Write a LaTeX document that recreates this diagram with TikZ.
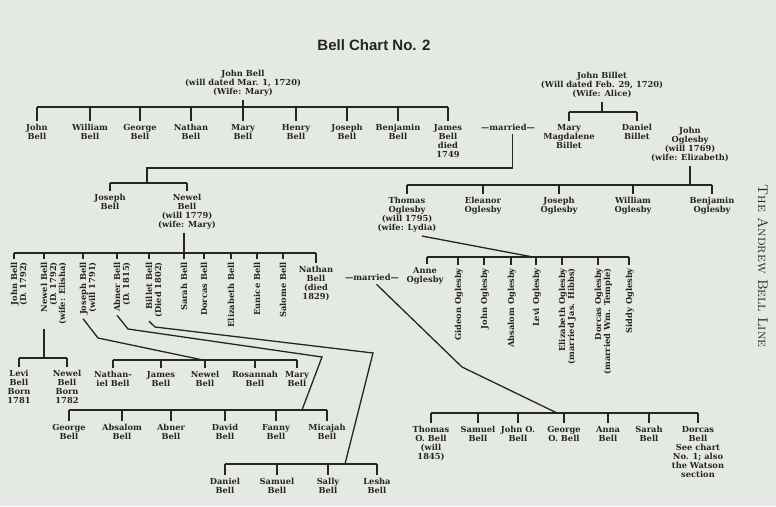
\documentclass[tikz,border=0pt]{standalone}
\usepackage{fontspec}
\newfontfamily\chartfont{DejaVu Serif}
\newfontfamily\titlefont{Liberation Sans}
\definecolor{paper}{RGB}{229,233,227}
\definecolor{ink}{RGB}{38,36,36}

\begin{document}
\begin{tikzpicture}[
        x=1pt, y=-1pt,
        every node/.style={font=\chartfont\bfseries\fontsize{8.3}{9}\selectfont, text=ink, inner sep=3.5pt},
        person/.style={align=center, anchor=north},
        sideways/.style={rotate=90, align=right, anchor=north east},
        link/.style={draw=ink, line width=1.3pt}
    ]
        \fill[paper] (0,0) rectangle (776,506);

        % Tiêu đề
        \node[font=\titlefont\bfseries\fontsize{15}{17}\selectfont] (title) at (374,45) {Bell Chart No. 2};
        \node[rotate=-90, font=\rmfamily\fontsize{14}{16}\selectfont\scshape] (sidetitle) at (763,266) {The Andrew Bell Line};

        % Thế hệ thứ nhất
        \node[person] (jbell) at (243,66.5) {John Bell\\(will dated Mar. 1, 1720)\\(Wife: Mary)};
        \node[person] (jbillet) at (602,68.5) {John Billet\\(Will dated Feb. 29, 1720)\\(Wife: Alice)};
        \node[person] (joglesby) at (690,123.5) {John\\Oglesby\\(will 1769)\\(wife: Elizabeth)};

        % Con của John Bell và John Billet
        \node[person] (johnB) at (37,120.5) {John\\Bell};
        \node[person] (williamB) at (90,120.5) {William\\Bell};
        \node[person] (georgeB) at (140,120.5) {George\\Bell};
        \node[person] (nathanB) at (191,120.5) {Nathan\\Bell};
        \node[person] (maryB) at (243,120.5) {Mary\\Bell};
        \node[person] (henryB) at (296,120.5) {Henry\\Bell};
        \node[person] (josephB) at (347,120.5) {Joseph\\Bell};
        \node[person] (benjaminB) at (398,120.5) {Benjamin\\Bell};
        \node[person] (jamesB) at (448,120.5) {James\\Bell\\died\\1749};
        \node[person] (married1) at (508,120.5) {—married—};
        \node[person] (maryMB) at (569,120.5) {Mary\\Magdalene\\Billet};
        \node[person] (danielBt) at (637,120.5) {Daniel\\Billet};

        % Thế hệ thứ ba
        \node[person] (josephB2) at (110,190.5) {Joseph\\Bell};
        \node[person] (newelB) at (187,190.5) {Newel\\Bell\\(will 1779)\\(wife: Mary)};
        \node[person] (thomasO) at (407,193.5) {Thomas\\Oglesby\\(will 1795)\\(wife: Lydia)};
        \node[person] (eleanorO) at (483,193.5) {Eleanor\\Oglesby};
        \node[person] (josephO) at (559,193.5) {Joseph\\Oglesby};
        \node[person] (williamO) at (633,193.5) {William\\Oglesby};
        \node[person] (benjaminO) at (712,193.5) {Benjamin\\Oglesby};

        % Con của Newel Bell
        \node[sideways] (johnB4) at (7.2,258.5) {John Bell\\(D. 1792)};
        \node[sideways] (newelB4) at (37.2,258.5) {Newel Bell\\(D. 1792)\\(wife: Elisha)};
        \node[sideways] (josephB4) at (76.2,258.5) {Joseph Bell\\(will 1791)};
        \node[sideways] (abnerB4) at (110.2,258.5) {Abner Bell\\(D. 1815)};
        \node[sideways] (billetB4) at (142.2,258.5) {Billet Bell\\(Died 1802)};
        \node[sideways] (sarahB4) at (177.2,258.5) {Sarah Bell};
        \node[sideways] (dorcasB4) at (197.2,258.5) {Dorcas Bell};
        \node[sideways] (elizabethB4) at (224.2,258.5) {Elizabeth Bell};
        \node[sideways] (euniceB4) at (250.2,258.5) {Eunice Bell};
        \node[sideways] (salomeB4) at (276.2,258.5) {Salome Bell};
        \node[person] (nathanB4) at (316,262.5) {Nathan\\Bell\\(died\\1829)};
        \node[person] (married2) at (372,270.5) {—married—};

        % Con của Thomas Oglesby
        \node[person] (anneO) at (425,263.5) {Anne\\Oglesby};
        \node[sideways] (gideonO) at (451.2,264.5) {Gideon Oglesby};
        \node[sideways] (johnO) at (477.2,264.5) {John Oglesby};
        \node[sideways] (absalomO) at (504.2,264.5) {Absalom Oglesby};
        \node[sideways] (leviO) at (529.2,264.5) {Levi Oglesby};
        \node[sideways] (elizabethO) at (555.2,264.5) {Elizabeth Oglesby\\(married Jas. Hibbs)};
        \node[sideways] (dorcasO) at (591.2,264.5) {Dorcas Oglesby\\(married Wm. Temple)};
        \node[sideways] (siddyO) at (622.2,264.5) {Siddy Oglesby};

        % Cháu
        \node[person] (leviB) at (19,366.5) {Levi\\Bell\\Born\\1781};
        \node[person] (newelB5) at (67,366.5) {Newel\\Bell\\Born\\1782};
        \node[person] (nathanielB) at (113,367.5) {Nathan-\\iel Bell};
        \node[person] (jamesB5) at (161,367.5) {James\\Bell};
        \node[person] (newelB6) at (205,367.5) {Newel\\Bell};
        \node[person] (rosannahB) at (255,367.5) {Rosannah\\Bell};
        \node[person] (maryB5) at (297,367.5) {Mary\\Bell};
        \node[person] (georgeB5) at (69,420.5) {George\\Bell};
        \node[person] (absalomB) at (122,420.5) {Absalom\\Bell};
        \node[person] (abnerB5) at (171,420.5) {Abner\\Bell};
        \node[person] (davidB) at (225,420.5) {David\\Bell};
        \node[person] (fannyB) at (276,420.5) {Fanny\\Bell};
        \node[person] (micajahB) at (327,420.5) {Micajah\\Bell};
        \node[person] (danielB) at (225,474.5) {Daniel\\Bell};
        \node[person] (samuelB) at (277,474.5) {Samuel\\Bell};
        \node[person] (sallyB) at (328,474.5) {Sally\\Bell};
        \node[person] (leshaB) at (377,474.5) {Lesha\\Bell};
        \node[person] (thomasOB) at (431,422.5) {Thomas\\O. Bell\\(will\\1845)};
        \node[person] (samuelB6) at (478,422.5) {Samuel\\Bell};
        \node[person] (johnOB) at (518,422.5) {John O.\\Bell};
        \node[person] (georgeOB) at (564,422.5) {George\\O. Bell};
        \node[person] (annaB) at (608,422.5) {Anna\\Bell};
        \node[person] (sarahB6) at (649,422.5) {Sarah\\Bell};
        \node[person] (dorcasB6) at (698,422.5) {Dorcas\\Bell\\See chart\\No. 1; also\\the Watson\\section};

        % Các thanh ngang và điểm gấp
        \coordinate (bar1) at (0,107);
        \coordinate (bar2) at (0,112);
        \coordinate (bar3) at (0,183);
        \coordinate (bar4) at (0,185);
        \coordinate (bar5) at (0,253);
        \coordinate (bar6) at (0,257);
        \coordinate (bar7) at (0,413);
        \coordinate (bar8) at (0,358);
        \coordinate (bar9) at (0,360);
        \coordinate (bar10) at (0,410);
        \coordinate (bar11) at (0,464);
        \coordinate (k3) at (147,168);
        \coordinate (k7) at (462,367);
        \coordinate (k9) at (98,338);
        \coordinate (k10a) at (128,329);
        \coordinate (k10b) at (322,357);
        \coordinate (k11a) at (155,327);
        \coordinate (k11b) at (373,353);

        % Các đường nối
        \draw[link] (jbell.south) -- (jbell.south |- bar1);
        \draw[link] (johnB.north |- bar1) -- (jamesB.north |- bar1);
        \foreach \c in {johnB,williamB,georgeB,nathanB,maryB,henryB,josephB,benjaminB,jamesB}
            \draw[link] (\c.north |- bar1) -- (\c.north);

        \draw[link] (jbillet.south) -- (jbillet.south |- bar2);
        \draw[link] (maryMB.north |- bar2) -- (danielBt.north |- bar2);
        \foreach \c in {maryMB,danielBt}
            \draw[link] (\c.north |- bar2) -- (\c.north);

        \draw[link] ([xshift=4.5pt]married1.south) |- (k3) -- (k3 |- bar3);
        \draw[link] (josephB2.north |- bar3) -- (newelB.north |- bar3);
        \foreach \c in {josephB2,newelB}
            \draw[link] (\c.north |- bar3) -- (\c.north);

        \draw[link] (joglesby.south) -- (joglesby.south |- bar4);
        \draw[link] (thomasO.north |- bar4) -- (benjaminO.north |- bar4);
        \foreach \c in {thomasO,eleanorO,josephO,williamO,benjaminO}
            \draw[link] (\c.north |- bar4) -- (\c.north);

        \draw[link] ([xshift=-3pt]newelB.south) -- ([xshift=-3pt]newelB.south |- bar5);
        \draw[link] ([xshift=6.8pt]johnB4.north east |- bar5) -- (nathanB4.north |- bar5);
        \foreach \c in {johnB4,newelB4,josephB4,abnerB4,billetB4,sarahB4,dorcasB4,elizabethB4,euniceB4,salomeB4}
            \draw[link] ([xshift=6.8pt]\c.north east |- bar5) -- ([xshift=6.8pt]\c.north east);
        \draw[link] (nathanB4.north |- bar5) -- (nathanB4.north);

        \draw[link] ([xshift=15pt]thomasO.south) -- ([xshift=3.8pt]leviO.north east |- bar6);
        \draw[link] ([xshift=2pt]anneO.north |- bar6) -- ([xshift=6.8pt]siddyO.north east |- bar6);
        \draw[link] ([xshift=2pt]anneO.north |- bar6) -- ([xshift=2pt]anneO.north);
        \foreach \c in {gideonO,johnO,absalomO,leviO,elizabethO,dorcasO,siddyO}
            \draw[link] ([xshift=6.8pt]\c.north east |- bar6) -- ([xshift=6.8pt]\c.north east);

        \draw[link] ([xshift=4.5pt]married2.south) -- (k7) -- ([xshift=-7pt]georgeOB.north |- bar7);
        \draw[link] (thomasOB.north |- bar7) -- (dorcasB6.north |- bar7);
        \foreach \c in {thomasOB,samuelB6,johnOB,georgeOB,annaB,sarahB6,dorcasB6}
            \draw[link] (\c.north |- bar7) -- (\c.north);

        \draw[link] ([xshift=6.8pt]newelB4.north west) -- ([xshift=6.8pt]newelB4.north west |- bar8);
        \draw[link] (leviB.north |- bar8) -- (newelB5.north |- bar8);
        \foreach \c in {leviB,newelB5}
            \draw[link] (\c.north |- bar8) -- (\c.north);

        \draw[link] ([xshift=6.8pt]josephB4.north west) -- (k9) -- ([xshift=-2pt]newelB6.north |- bar9);
        \draw[link] (nathanielB.north |- bar9) -- (maryB5.north |- bar9);
        \foreach \c in {nathanielB,jamesB5,newelB6,rosannahB,maryB5}
            \draw[link] (\c.north |- bar9) -- (\c.north);

        \draw[link] ([xshift=6.8pt]abnerB4.north west) -- (k10a) -- (k10b) -- ([xshift=-25pt]micajahB.north |- bar10);
        \draw[link] (georgeB5.north |- bar10) -- (micajahB.north |- bar10);
        \foreach \c in {georgeB5,absalomB,abnerB5,davidB,fannyB,micajahB}
            \draw[link] (\c.north |- bar10) -- (\c.north);

        \draw[link] ([xshift=6.8pt]billetB4.north west) -- (k11a) -- (k11b) -- ([xshift=-32pt]leshaB.north |- bar11);
        \draw[link] (danielB.north |- bar11) -- (leshaB.north |- bar11);
        \foreach \c in {danielB,samuelB,sallyB,leshaB}
            \draw[link] (\c.north |- bar11) -- (\c.north);
    \end{tikzpicture}
\end{document}
